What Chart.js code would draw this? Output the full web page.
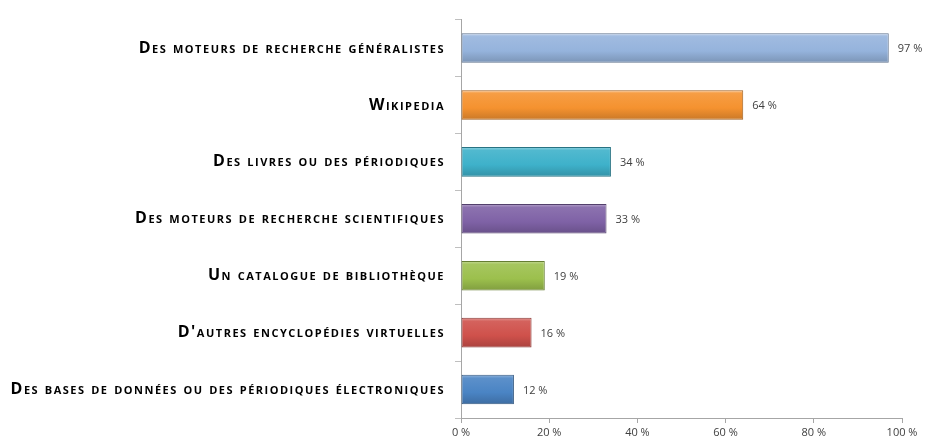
<!DOCTYPE html>
<html>
<head>
<meta charset="utf-8">
<script src="https://cdn.jsdelivr.net/npm/chart.js@4"></script>
<style>
  html, body { margin: 0; padding: 0; background: #fff; }
  #wrap { width: 929px; height: 442px; }
</style>
</head>
<body>
<div id="wrap"><canvas id="chart"></canvas></div>
<script>
const categories = [
  'Des moteurs de recherche généralistes',
  'Wikipedia',
  'Des livres ou des périodiques',
  'Des moteurs de recherche scientifiques',
  'Un catalogue de bibliothèque',
  "D'autres encyclopédies virtuelles",
  'Des bases de données ou des périodiques électroniques',
];
const values = [97, 64, 34, 33, 19, 16, 12];
const xTicks = [0, 20, 40, 60, 80, 100];
const barColors = ['#95b3dc', '#f5922f', '#3eb1ca', '#7f62a6', '#9cc04d', '#cf514b', '#4a84c4'];

const shade = (hex, f) => {
  const n = parseInt(hex.slice(1), 16);
  let r = (n >> 16) & 255, g = (n >> 8) & 255, b = n & 255;
  if (f > 0) {
    r += (255 - r) * f; g += (255 - g) * f; b += (255 - b) * f;
  } else {
    r *= 1 + f; g *= 1 + f; b *= 1 + f;
  }
  return `rgb(${Math.round(r)},${Math.round(g)},${Math.round(b)})`;
};

const barGradient = (context) => {
  const chart = context.chart;
  const { ctx, chartArea } = chart;
  const base = barColors[context.dataIndex];
  if (!chartArea) return base;
  const yScale = chart.scales.y;
  const yc = yScale.getPixelForValue(context.dataIndex);
  const h = 30;
  const g = ctx.createLinearGradient(0, yc - h / 2, 0, yc + h / 2);
  g.addColorStop(0, shade(base, 0.45));
  g.addColorStop(0.12, shade(base, 0.1));
  g.addColorStop(0.6, base);
  g.addColorStop(1, shade(base, -0.18));
  return g;
};

// category labels are spaced out a little, like the original small caps
const labelSpacing = {
  id: 'labelSpacing',
  beforeDraw(chart) {
    chart.ctx.letterSpacing = '1.5px';
  },
  beforeDatasetsDraw(chart) {
    chart.ctx.letterSpacing = '0px';
  },
};

const valueLabels = {
  id: 'valueLabels',
  afterDatasetsDraw(chart) {
    const { ctx } = chart;
    const meta = chart.getDatasetMeta(0);
    ctx.save();
    ctx.font = '11px "Open Sans"';
    ctx.fillStyle = '#404040';
    ctx.textBaseline = 'middle';
    meta.data.forEach((bar, i) => {
      ctx.fillText(values[i] + ' %', bar.x + 9, bar.y + 1);
    });
    ctx.restore();
  },
};

new Chart(document.querySelector('#chart'), {
  type: 'bar',
  data: {
    labels: categories,
    datasets: [{
      data: values,
      backgroundColor: barGradient,
      borderColor: barColors.map((c) => shade(c, -0.35)),
      borderWidth: 1,
      borderSkipped: false,
      barPercentage: 0.52,
      categoryPercentage: 1,
    }],
  },
  options: {
    indexAxis: 'y',
    responsive: true,
    maintainAspectRatio: false,
    animation: false,
    layout: { padding: { top: 13, right: 27, left: 0, bottom: 0 } },
    plugins: {
      legend: { display: false },
      tooltip: { enabled: false },
    },
    scales: {
      x: {
        min: 0,
        max: 100,
        afterBuildTicks: (scale) => {
          scale.ticks = xTicks.map((v) => ({ value: v }));
        },
        afterFit: (scale) => { scale.height = 24; },
        grid: {
          drawOnChartArea: false,
          tickLength: 5,
          color: '#a6a6a6',
        },
        border: { color: '#a6a6a6' },
        ticks: {
          z: 1,
          padding: 3,
          color: '#404040',
          font: { family: '"Open Sans"', size: 11 },
          callback: (v) => v + ' %',
        },
      },
      y: {
        afterFit: (scale) => { scale.width = 461; },
        grid: {
          drawOnChartArea: false,
          offset: true,
          tickLength: 6,
          color: '#bfbfbf',
        },
        border: { color: '#a6a6a6' },
        ticks: {
          padding: 10,
          color: '#000',
          font: { family: '"Open Sans"', size: 16, weight: 'small-caps bold' },
        },
      },
    },
  },
  plugins: [labelSpacing, valueLabels],
});
</script>
</body>
</html>
